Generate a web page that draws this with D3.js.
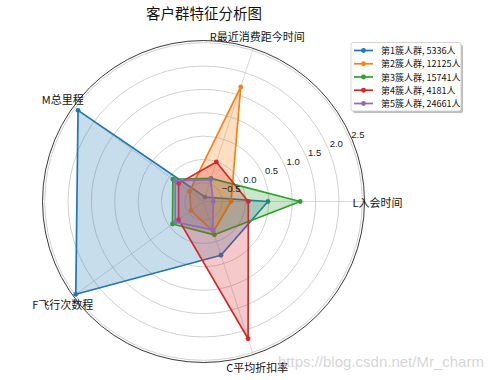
<!DOCTYPE html>
<html>
<head>
<meta charset="utf-8">
<script src="https://cdn.jsdelivr.net/npm/d3@7"></script>
<style>
  html, body { margin: 0; padding: 0; background: #fff; }
  svg { display: block; }
</style>
</head>
<body>
<svg id="chart" width="503" height="380"></svg>
<script>
// Radar chart of customer clusters (standardized LRFMC features)
const categories = ['L入会时间', 'R最近消费距今时间', 'M总里程', 'F飞行次数程', 'C平均折扣率'];
const clusterSizes = [5336, 12125, 15741, 4181, 24661];
const cluster1 = [0.48, -0.80, 2.42, 2.48, 0.31];
const cluster2 = [-0.31, 1.68, -0.53, -0.57, -0.22];
const cluster3 = [1.17, -0.38, -0.09, -0.08, -0.15];
const cluster4 = [0.06, -0.01, -0.24, -0.24, 2.19];
const cluster5 = [-0.69, -0.41, -0.15, -0.15, -0.26];
const radialTicks = [-0.5, 0.0, 0.5, 1.0, 1.5, 2.0, 2.5];
const colors = ['#1f77b4', '#ff7f0e', '#2ca02c', '#d62728', '#9467bd'];

const series = [cluster1, cluster2, cluster3, cluster4, cluster5].map((values, i) => ({
  name: `第${i + 1}簇人群, ${clusterSizes[i]}人`,
  values,
  color: colors[i]
}));

const svg = d3.select('#chart');
const cx = 203.5, cy = 201.5, R = 161;
const rMin = -0.9, rMax = 2.547;
const r = d3.scaleLinear().domain([rMin, rMax]).range([0, R]);
const angle = d3.scalePoint().domain(categories).range([0, 2 * Math.PI * 4 / 5]);

const pt = (theta, rad) => [cx + rad * Math.cos(theta), cy - rad * Math.sin(theta)];

const g = svg.append('g');

// ring gridlines
g.selectAll('circle.ring').data(radialTicks).join('circle')
  .attr('class', 'ring')
  .attr('cx', cx).attr('cy', cy)
  .attr('r', d => r(d))
  .attr('fill', 'none')
  .attr('stroke', '#c4c4c4')
  .attr('stroke-width', 0.8);

// spokes
g.selectAll('line.spoke').data(categories).join('line')
  .attr('class', 'spoke')
  .attr('x1', cx).attr('y1', cy)
  .attr('x2', d => pt(angle(d), R)[0])
  .attr('y2', d => pt(angle(d), R)[1])
  .attr('stroke', '#cfcfcf')
  .attr('stroke-width', 0.8);

// outer frame
g.append('circle')
  .attr('cx', cx).attr('cy', cy).attr('r', R)
  .attr('fill', 'none').attr('stroke', '#222').attr('stroke-width', 0.9);

// cluster polygons
const line = d3.lineRadial()
  .angle(d => Math.PI / 2 - angle(d.cat))
  .radius(d => r(d.v))
  .curve(d3.curveLinearClosed);

series.forEach(s => {
  const pts = s.values.map((v, j) => ({ cat: categories[j], v }));
  const grp = g.append('g').attr('transform', `translate(${cx},${cy})`);
  grp.append('path')
    .attr('d', line(pts))
    .attr('fill', s.color).attr('fill-opacity', 0.25)
    .attr('stroke', 'none');
  grp.append('path')
    .attr('d', line(pts))
    .attr('fill', 'none')
    .attr('stroke', s.color).attr('stroke-width', 1.7)
    .attr('stroke-linejoin', 'round');
  grp.selectAll('circle').data(pts).join('circle')
    .attr('cx', d => r(d.v) * Math.cos(angle(d.cat)))
    .attr('cy', d => -r(d.v) * Math.sin(angle(d.cat)))
    .attr('r', 2.4)
    .attr('fill', s.color);
});

// radial tick labels along 22.5°
const tickAngle = Math.PI / 8;
const fmt = d3.format('.1f');
g.selectAll('text.rtick').data(radialTicks).join('text')
  .attr('class', 'rtick')
  .attr('x', d => pt(tickAngle, r(d))[0] + 1)
  .attr('y', d => pt(tickAngle, r(d))[1] - 2.5)
  .attr('font-family', '"Liberation Sans", Arial, sans-serif')
  .attr('font-size', 9.5)
  .attr('fill', '#222')
  .text(d => fmt(d));

// category labels
g.selectAll('text.cat').data(categories).join('text')
  .attr('class', 'cat')
  .attr('x', d => pt(angle(d), 174)[0])
  .attr('y', d => pt(angle(d), 174)[1])
  .attr('text-anchor', 'middle')
  .attr('dominant-baseline', 'central')
  .attr('font-family', '"Noto Sans CJK SC", sans-serif')
  .attr('font-size', 11)
  .attr('fill', '#111')
  .text(d => d);

// title
svg.append('text')
  .attr('x', 204).attr('y', 18.5)
  .attr('text-anchor', 'middle')
  .attr('font-family', '"Noto Sans CJK SC", sans-serif')
  .attr('font-size', 14.5)
  .attr('fill', '#111')
  .text('客户群特征分析图');

// legend
const lg = svg.append('g').attr('transform', 'translate(351,42.5)');
const lw = 110, lh = 68.5;
lg.append('rect')
  .attr('x', 2).attr('y', 2).attr('width', lw).attr('height', lh)
  .attr('rx', 2).attr('fill', '#808080').attr('fill-opacity', 0.5);
lg.append('rect')
  .attr('width', lw).attr('height', lh).attr('rx', 2)
  .attr('fill', '#fff').attr('stroke', '#cccccc').attr('stroke-width', 0.8);
const rowY = d3.scaleLinear().domain([0, 4]).range([8, 61]);
const rows = lg.selectAll('g.row').data(series).join('g')
  .attr('class', 'row')
  .attr('transform', (d, i) => `translate(0,${rowY(i)})`);
rows.append('line')
  .attr('x1', 3).attr('x2', 22).attr('y1', 0).attr('y2', 0)
  .attr('stroke', d => d.color).attr('stroke-width', 1.7);
rows.append('circle')
  .attr('cx', 12.5).attr('cy', 0).attr('r', 2.4)
  .attr('fill', d => d.color);
rows.append('text')
  .attr('x', 30).attr('y', 0)
  .attr('dominant-baseline', 'central')
  .attr('font-family', '"Noto Sans CJK SC", sans-serif')
  .attr('font-size', 9)
  .attr('fill', '#111')
  .text(d => d.name);

// source watermark
svg.append('text')
  .attr('x', 278).attr('y', 367)
  .attr('font-family', '"Liberation Sans", Arial, sans-serif')
  .attr('font-size', 15)
  .attr('fill', '#c8c8c8')
  .attr('fill-opacity', 0.75)
  .text('https://blog.csdn.net/Mr_charm');
</script>
</body>
</html>
